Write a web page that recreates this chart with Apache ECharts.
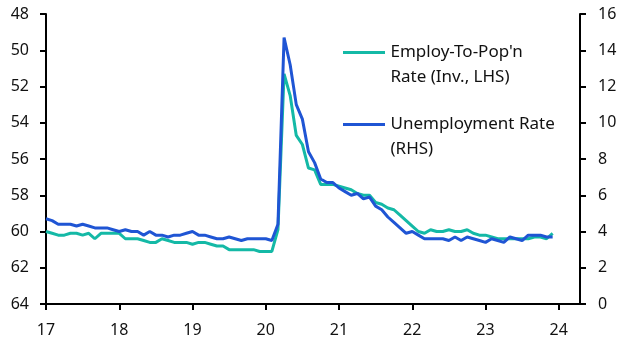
<!DOCTYPE html>
<html>
<head>
<meta charset="utf-8">
<script src="https://cdn.jsdelivr.net/npm/echarts@6/dist/echarts.min.js"></script>
<style>
  html, body { margin: 0; padding: 0; background: #fff; }
  #chart { width: 630px; height: 355px; }
</style>
</head>
<body>
<div id="chart"></div>
<script>
// Monthly data, Jan 2017 .. Dec 2023
const startYear = 17;
const xTicks = [17, 18, 19, 20, 21, 22, 23, 24];
const leftTicks = [48, 50, 52, 54, 56, 58, 60, 62, 64];
const rightTicks = [0, 2, 4, 6, 8, 10, 12, 14, 16];

const seriesNames = ["Employ-To-Pop'n\nRate (Inv., LHS)", "Unemployment Rate\n(RHS)"];

// Employment-to-population ratio (%), plotted on inverted left axis
const epop = [
  60.0, 60.1, 60.2, 60.2, 60.1, 60.1, 60.2, 60.1, 60.4, 60.1, 60.1, 60.1,
  60.1, 60.4, 60.4, 60.4, 60.5, 60.6, 60.6, 60.4, 60.5, 60.6, 60.6, 60.6,
  60.7, 60.6, 60.6, 60.7, 60.8, 60.8, 61.0, 61.0, 61.0, 61.0, 61.0, 61.1,
  61.1, 61.1, 59.9, 51.3, 52.5, 54.7, 55.2, 56.5, 56.6, 57.4, 57.4, 57.4,
  57.5, 57.6, 57.7, 57.9, 58.0, 58.0, 58.4, 58.5, 58.7, 58.8, 59.1, 59.4,
  59.7, 60.0, 60.1, 59.9, 60.0, 60.0, 59.9, 60.0, 60.0, 59.9, 60.1, 60.2,
  60.2, 60.3, 60.4, 60.4, 60.4, 60.4, 60.4, 60.4, 60.3, 60.3, 60.4, 60.1
];

// Unemployment rate (%), right axis
const unemp = [
  4.7, 4.6, 4.4, 4.4, 4.4, 4.3, 4.4, 4.3, 4.2, 4.2, 4.2, 4.1,
  4.0, 4.1, 4.0, 4.0, 3.8, 4.0, 3.8, 3.8, 3.7, 3.8, 3.8, 3.9,
  4.0, 3.8, 3.8, 3.7, 3.6, 3.6, 3.7, 3.6, 3.5, 3.6, 3.6, 3.6,
  3.6, 3.5, 4.4, 14.7, 13.2, 11.0, 10.2, 8.4, 7.8, 6.9, 6.7, 6.7,
  6.4, 6.2, 6.0, 6.1, 5.8, 5.9, 5.4, 5.2, 4.8, 4.5, 4.2, 3.9,
  4.0, 3.8, 3.6, 3.6, 3.6, 3.6, 3.5, 3.7, 3.5, 3.7, 3.6, 3.5,
  3.4, 3.6, 3.5, 3.4, 3.7, 3.6, 3.5, 3.8, 3.8, 3.8, 3.7, 3.7
];

const toPairs = arr => arr.map((v, i) => [startYear + i / 12, v]);

const FONT = 'Noto Sans';
const GREEN = '#14b9a6';
const BLUE = '#1f55d4';

const chart = echarts.init(document.getElementById('chart'), null, { renderer: 'canvas' });

const legendIcon = 'path://M0,0H42V3H0Z M0,27.99H42V28H0Z';

chart.setOption({
  animation: false,
  backgroundColor: '#ffffff',
  grid: { left: 46, right: 50, top: 14, bottom: 51, containLabel: false },
  legend: {
    orient: 'vertical',
    left: 338,
    top: 35,
    itemWidth: 43,
    itemHeight: 28,
    itemGap: 22,
    icon: legendIcon,
    itemStyle: { borderWidth: 0 },
    textStyle: { fontFamily: FONT, fontSize: 17, color: '#111', lineHeight: 25 },
    data: seriesNames
  },
  xAxis: {
    type: 'value',
    min: 17,
    max: 24.29,
    interval: 1,
    splitLine: { show: false },
    axisLine: { onZero: false, lineStyle: { color: '#000', width: 2 } },
    axisTick: { show: true, length: 6, lineStyle: { color: '#000', width: 2 }, customValues: xTicks },
    axisLabel: { customValues: xTicks, fontFamily: FONT, fontSize: 16, color: '#111', margin: 18, formatter: v => String(v) }
  },
  yAxis: [
    {
      type: 'value',
      position: 'left',
      inverse: true,
      min: leftTicks[0],
      max: leftTicks[leftTicks.length - 1],
      interval: 2,
      splitLine: { show: false },
      axisLine: { show: true, onZero: false, lineStyle: { color: '#000', width: 2 } },
      axisTick: { show: true, length: 6, lineStyle: { color: '#000', width: 2 } },
      axisLabel: { fontFamily: FONT, fontSize: 16, color: '#111', margin: 17 }
    },
    {
      type: 'value',
      position: 'right',
      min: rightTicks[0],
      max: rightTicks[rightTicks.length - 1],
      interval: 2,
      splitLine: { show: false },
      axisLine: { show: true, onZero: false, lineStyle: { color: '#000', width: 2 } },
      axisTick: { show: true, length: 6, lineStyle: { color: '#000', width: 2 } },
      axisLabel: { fontFamily: FONT, fontSize: 16, color: '#111', margin: 18 }
    }
  ],
  series: [
    {
      name: seriesNames[0],
      type: 'line',
      yAxisIndex: 0,
      data: toPairs(epop),
      showSymbol: false,
      symbol: 'none',
      color: GREEN,
      lineStyle: { color: GREEN, width: 3 },
      z: 2
    },
    {
      name: seriesNames[1],
      type: 'line',
      yAxisIndex: 1,
      data: toPairs(unemp),
      showSymbol: false,
      symbol: 'none',
      color: BLUE,
      lineStyle: { color: BLUE, width: 3 },
      z: 3
    }
  ]
});
</script>
</body>
</html>
